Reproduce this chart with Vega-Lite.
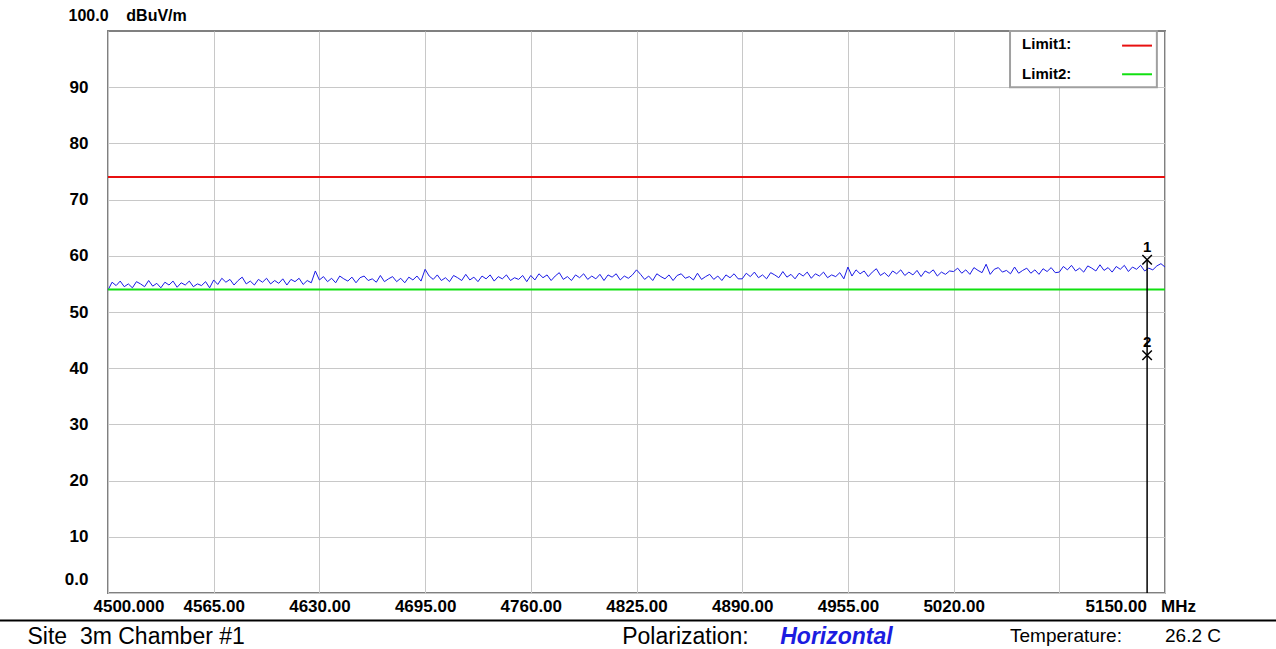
{
"$schema": "https://vega.github.io/schema/vega-lite/v6.json",
"width": 1057, "height": 562,
"autosize": {"type": "none"},
"padding": {"left": 108, "top": 31, "right": 111, "bottom": 56},
"background": "white",
"config": {"view": {"stroke": "#808080", "strokeWidth": 2}, "font": "Liberation Sans"},
"datasets": {
"trace": [
{"f":4500,"v":53.9},{"f":4502.5,"v":55.3},{"f":4505,"v":54.7},{"f":4507.5,"v":55.5},{"f":4510,"v":54.5},{"f":4512.5,"v":55.0},{"f":4515,"v":54.3},{"f":4517.5,"v":55.4},{"f":4520,"v":55.0},{"f":4522.5,"v":54.5},{"f":4525,"v":55.6},{"f":4527.5,"v":54.6},{"f":4530,"v":55.1},{"f":4532.5,"v":54.3},{"f":4535,"v":55.3},{"f":4537.5,"v":54.8},{"f":4540,"v":55.5},{"f":4542.5,"v":54.4},{"f":4545,"v":55.2},{"f":4547.5,"v":54.8},{"f":4550,"v":55.5},{"f":4552.5,"v":54.5},{"f":4555,"v":55.0},{"f":4557.5,"v":54.7},{"f":4560,"v":55.4},{"f":4562.5,"v":54.3},
{"f":4565,"v":55.7},{"f":4567.5,"v":54.9},{"f":4570,"v":56.0},{"f":4572.5,"v":55.3},{"f":4575,"v":55.8},{"f":4577.5,"v":54.8},{"f":4580,"v":55.6},{"f":4582.5,"v":56.2},{"f":4585,"v":55.0},{"f":4587.5,"v":55.5},{"f":4590,"v":54.8},{"f":4592.5,"v":55.8},{"f":4595,"v":55.3},{"f":4597.5,"v":56.0},{"f":4600,"v":55.0},{"f":4602.5,"v":55.6},{"f":4605,"v":55.1},{"f":4607.5,"v":55.9},{"f":4610,"v":54.8},{"f":4612.5,"v":55.8},{"f":4615,"v":55.4},{"f":4617.5,"v":56.0},{"f":4620,"v":54.9},{"f":4622.5,"v":55.6},{"f":4625,"v":55.2},{"f":4627.5,"v":57.3},
{"f":4630,"v":55.7},{"f":4632.5,"v":56.3},{"f":4635,"v":55.4},{"f":4637.5,"v":56.0},{"f":4640,"v":55.2},{"f":4642.5,"v":56.4},{"f":4645,"v":55.9},{"f":4647.5,"v":55.5},{"f":4650,"v":56.2},{"f":4652.5,"v":55.2},{"f":4655,"v":56.1},{"f":4657.5,"v":56.4},{"f":4660,"v":55.6},{"f":4662.5,"v":55.9},{"f":4665,"v":55.3},{"f":4667.5,"v":56.5},{"f":4670,"v":55.4},{"f":4672.5,"v":55.9},{"f":4675,"v":56.3},{"f":4677.5,"v":55.4},{"f":4680,"v":56.0},{"f":4682.5,"v":55.2},{"f":4685,"v":56.2},{"f":4687.5,"v":55.7},{"f":4690,"v":56.4},{"f":4692.5,"v":55.5},
{"f":4695,"v":57.6},{"f":4697.5,"v":56.4},{"f":4700,"v":55.8},{"f":4702.5,"v":56.6},{"f":4705,"v":55.6},{"f":4707.5,"v":56.1},{"f":4710,"v":55.4},{"f":4712.5,"v":56.5},{"f":4715,"v":56.1},{"f":4717.5,"v":55.6},{"f":4720,"v":56.7},{"f":4722.5,"v":55.7},{"f":4725,"v":56.2},{"f":4727.5,"v":55.4},{"f":4730,"v":56.4},{"f":4732.5,"v":55.9},{"f":4735,"v":56.6},{"f":4737.5,"v":55.5},{"f":4740,"v":56.3},{"f":4742.5,"v":55.9},{"f":4745,"v":56.6},{"f":4747.5,"v":55.6},{"f":4750,"v":56.1},{"f":4752.5,"v":55.8},{"f":4755,"v":56.5},{"f":4757.5,"v":55.4},
{"f":4760,"v":56.5},{"f":4762.5,"v":55.7},{"f":4765,"v":56.8},{"f":4767.5,"v":56.1},{"f":4770,"v":56.6},{"f":4772.5,"v":55.6},{"f":4775,"v":56.4},{"f":4777.5,"v":57.0},{"f":4780,"v":55.8},{"f":4782.5,"v":56.3},{"f":4785,"v":55.6},{"f":4787.5,"v":56.6},{"f":4790,"v":56.1},{"f":4792.5,"v":56.8},{"f":4795,"v":55.8},{"f":4797.5,"v":56.4},{"f":4800,"v":55.9},{"f":4802.5,"v":56.7},{"f":4805,"v":55.6},{"f":4807.5,"v":56.6},{"f":4810,"v":56.2},{"f":4812.5,"v":56.8},{"f":4815,"v":55.7},{"f":4817.5,"v":56.4},{"f":4820,"v":56.0},{"f":4822.5,"v":56.6},
{"f":4825,"v":57.5},{"f":4827.5,"v":56.7},{"f":4830,"v":55.8},{"f":4832.5,"v":56.4},{"f":4835,"v":55.6},{"f":4837.5,"v":56.8},{"f":4840,"v":56.3},{"f":4842.5,"v":55.9},{"f":4845,"v":56.6},{"f":4847.5,"v":55.6},{"f":4850,"v":56.5},{"f":4852.5,"v":56.8},{"f":4855,"v":56.0},{"f":4857.5,"v":56.3},{"f":4860,"v":55.7},{"f":4862.5,"v":56.9},{"f":4865,"v":55.8},{"f":4867.5,"v":56.3},{"f":4870,"v":56.7},{"f":4872.5,"v":55.8},{"f":4875,"v":56.4},{"f":4877.5,"v":55.6},{"f":4880,"v":56.6},{"f":4882.5,"v":56.1},{"f":4885,"v":56.8},{"f":4887.5,"v":55.9},
{"f":4890,"v":55.9},{"f":4892.5,"v":56.9},{"f":4895,"v":56.3},{"f":4897.5,"v":57.1},{"f":4900,"v":56.1},{"f":4902.5,"v":56.6},{"f":4905,"v":55.9},{"f":4907.5,"v":57.0},{"f":4910,"v":56.6},{"f":4912.5,"v":56.1},{"f":4915,"v":57.2},{"f":4917.5,"v":56.2},{"f":4920,"v":56.7},{"f":4922.5,"v":55.9},{"f":4925,"v":56.9},{"f":4927.5,"v":56.4},{"f":4930,"v":57.1},{"f":4932.5,"v":56.0},{"f":4935,"v":56.8},{"f":4937.5,"v":56.4},{"f":4940,"v":57.1},{"f":4942.5,"v":56.1},{"f":4945,"v":56.6},{"f":4947.5,"v":56.3},{"f":4950,"v":57.0},{"f":4952.5,"v":55.9},
{"f":4955,"v":58.0},{"f":4957.5,"v":56.4},{"f":4960,"v":57.5},{"f":4962.5,"v":56.8},{"f":4965,"v":57.3},{"f":4967.5,"v":56.3},{"f":4970,"v":57.1},{"f":4972.5,"v":57.7},{"f":4975,"v":56.5},{"f":4977.5,"v":57.0},{"f":4980,"v":56.3},{"f":4982.5,"v":57.3},{"f":4985,"v":56.8},{"f":4987.5,"v":57.5},{"f":4990,"v":56.5},{"f":4992.5,"v":57.1},{"f":4995,"v":56.6},{"f":4997.5,"v":57.4},{"f":5000,"v":56.3},{"f":5002.5,"v":57.3},{"f":5005,"v":56.9},{"f":5007.5,"v":57.5},{"f":5010,"v":56.4},{"f":5012.5,"v":57.1},{"f":5015,"v":56.7},{"f":5017.5,"v":57.3},
{"f":5020,"v":57.2},{"f":5022.5,"v":57.8},{"f":5025,"v":56.9},{"f":5027.5,"v":57.5},{"f":5030,"v":56.7},{"f":5032.5,"v":57.9},{"f":5035,"v":57.4},{"f":5037.5,"v":57.0},{"f":5040,"v":58.5},{"f":5042.5,"v":56.7},{"f":5045,"v":57.6},{"f":5047.5,"v":57.9},{"f":5050,"v":57.1},{"f":5052.5,"v":57.4},{"f":5055,"v":56.8},{"f":5057.5,"v":58.0},{"f":5060,"v":56.9},{"f":5062.5,"v":57.4},{"f":5065,"v":57.8},{"f":5067.5,"v":56.9},{"f":5070,"v":57.5},{"f":5072.5,"v":56.7},{"f":5075,"v":57.7},{"f":5077.5,"v":57.2},{"f":5080,"v":57.9},{"f":5082.5,"v":57.0},
{"f":5085,"v":57.1},{"f":5087.5,"v":58.1},{"f":5090,"v":57.5},{"f":5092.5,"v":58.3},{"f":5095,"v":57.3},{"f":5097.5,"v":57.8},{"f":5100,"v":57.1},{"f":5102.5,"v":58.2},{"f":5105,"v":57.8},{"f":5107.5,"v":57.3},{"f":5110,"v":58.4},{"f":5112.5,"v":57.4},{"f":5115,"v":57.9},{"f":5117.5,"v":57.1},{"f":5120,"v":58.1},{"f":5122.5,"v":57.6},{"f":5125,"v":58.3},{"f":5127.5,"v":57.2},{"f":5130,"v":58.0},{"f":5132.5,"v":57.6},{"f":5135,"v":58.3},{"f":5137.5,"v":57.3},{"f":5140,"v":57.8},{"f":5142.5,"v":57.5},{"f":5145,"v":58.2},{"f":5147.5,"v":58.6},{"f":5150,"v":58.0}
],
"limits": [{"limit": "Limit1", "level": 74}, {"limit": "Limit2", "level": 54}],
"markers": [{"marker": "1", "f": 5139, "level": 59.3}, {"marker": "2", "f": 5139, "level": 42.3}]
},
"layer": [
{
"data": {"name": "trace"},
"mark": {"type": "line", "color": "#1a1ae6", "strokeWidth": 1},
"encoding": {
"x": {"field": "f", "type": "quantitative",
"scale": {"domain": [4500, 5150], "nice": false, "zero": false},
"axis": {"title": null, "values": [4500,4565,4630,4695,4760,4825,4890,4955,5020,5085,5150],
"grid": true, "gridColor": "#c8c8c8", "gridWidth": 1, "domain": false, "ticks": false,
"labelPadding": 5, "labelFont": "Liberation Sans", "labelFontSize": 17, "labelFontWeight": "bold", "labelColor": "#000000",
"labelFlush": false, "labelOverlap": false, "labelBound": false,
"labelExpr": "datum.value == 4500 ? '4500.000' : datum.value == 5085 ? '' : datum.value == 5150 ? '5150.00\u00a0\u00a0\u00a0MHz' : format(datum.value, '.2f')",
"labelAlign": {"condition": {"test": "datum.value == 4500 || datum.value == 5150", "value": "left"}, "value": "center"},
"labelOffset": {"condition": [{"test": "datum.value == 4500", "value": -15}, {"test": "datum.value == 5150", "value": -80}], "value": 0}
}},
"y": {"field": "v", "type": "quantitative",
"scale": {"domain": [0, 100], "nice": false, "zero": false},
"axis": {"title": "100.0\u00a0\u00a0\u00a0\u00a0dBuV/m", "titleAngle": 0, "titleX": -40, "titleY": -16, "titleAlign": "left", "titleBaseline": "middle",
"titleFont": "Liberation Sans", "titleFontSize": 16, "titleFontWeight": "bold", "titleColor": "#000000",
"values": [0,10,20,30,40,50,60,70,80,90],
"grid": true, "gridColor": "#c8c8c8", "gridWidth": 1, "domain": false, "ticks": false,
"labelPadding": 20, "labelFont": "Liberation Sans", "labelFontSize": 17, "labelFontWeight": "bold", "labelColor": "#000000",
"labelExpr": "datum.value == 0 ? '0.0' : datum.label",
"labelOffset": {"condition": {"test": "datum.value == 0", "value": -14}, "value": 0}
}}
}
},
{
"data": {"name": "limits"},
"mark": {"type": "rule", "strokeWidth": 2},
"encoding": {
"y": {"field": "level", "type": "quantitative"},
"color": {"field": "limit", "type": "nominal", "scale": {"domain": ["Limit1", "Limit2"], "range": ["#e81010", "#10e010"]}, "legend": null}
}
},
{
"data": {"name": "markers"},
"transform": [{"filter": "datum.marker == '1'"}],
"mark": {"type": "rule", "color": "#000000", "strokeWidth": 1.5},
"encoding": {
"x": {"field": "f", "type": "quantitative"},
"y": {"field": "level", "type": "quantitative"},
"y2": {"datum": 0}
}
},
{
"data": {"name": "markers"},
"mark": {"type": "point", "shape": "M-1,-1L1,1M-1,1L1,-1", "filled": false, "stroke": "#000000", "strokeWidth": 1.5, "size": 90, "opacity": 1},
"encoding": {
"x": {"field": "f", "type": "quantitative"},
"y": {"field": "level", "type": "quantitative"}
}
},
{
"data": {"name": "markers"},
"mark": {"type": "text", "dy": -13, "fontSize": 15, "fontWeight": "bold", "font": "Liberation Sans", "color": "#000000"},
"encoding": {
"x": {"field": "f", "type": "quantitative"},
"y": {"field": "level", "type": "quantitative"},
"text": {"field": "marker"}
}
},
{
"data": {"values": [{}]},
"mark": {"type": "rect", "fill": "#ffffff", "stroke": "#a0a0a0", "strokeWidth": 2},
"encoding": {
"x": {"datum": 5054.7, "type": "quantitative"}, "x2": {"datum": 5145},
"y": {"datum": 100, "type": "quantitative"}, "y2": {"datum": 90}
}
},
{
"data": {"name": "limits"},
"transform": [{"filter": "datum.limit == 'Limit1'"}],
"mark": {"type": "text", "align": "left", "baseline": "middle", "fontSize": 15, "fontWeight": "bold", "font": "Liberation Sans", "color": "#000000", "text": "Limit1:"},
"encoding": {"x": {"datum": 5062.1, "type": "quantitative"}, "y": {"datum": 97.6, "type": "quantitative"}}
},
{
"data": {"name": "limits"},
"transform": [{"filter": "datum.limit == 'Limit2'"}],
"mark": {"type": "text", "align": "left", "baseline": "middle", "fontSize": 15, "fontWeight": "bold", "font": "Liberation Sans", "color": "#000000", "text": "Limit2:"},
"encoding": {"x": {"datum": 5062.1, "type": "quantitative"}, "y": {"datum": 92.4, "type": "quantitative"}}
},
{
"data": {"name": "limits"},
"transform": [{"filter": "datum.limit == 'Limit1'"}],
"mark": {"type": "rule", "strokeWidth": 2},
"encoding": {"x": {"datum": 5123.6, "type": "quantitative"}, "x2": {"datum": 5142}, "y": {"datum": 97.4, "type": "quantitative"},
"color": {"field": "limit", "type": "nominal", "legend": null}}
},
{
"data": {"name": "limits"},
"transform": [{"filter": "datum.limit == 'Limit2'"}],
"mark": {"type": "rule", "strokeWidth": 2},
"encoding": {"x": {"datum": 5123.6, "type": "quantitative"}, "x2": {"datum": 5142}, "y": {"datum": 92.3, "type": "quantitative"},
"color": {"field": "limit", "type": "nominal", "legend": null}}
},
{
"data": {"values": [{}]},
"mark": {"type": "rule", "color": "#000000", "strokeWidth": 2, "clip": false},
"encoding": {"x": {"datum": 4430, "type": "quantitative"}, "x2": {"datum": 5220}, "y": {"datum": -4.9, "type": "quantitative"}}
},
{
"data": {"values": [{}]},
"mark": {"type": "text", "align": "left", "baseline": "middle", "fontSize": 23, "font": "Liberation Sans", "color": "#000000", "text": "Site\u00a0 3m Chamber #1"},
"encoding": {"x": {"datum": 4450.5, "type": "quantitative"}, "y": {"datum": -7.9, "type": "quantitative"}}
},
{
"data": {"values": [{}]},
"mark": {"type": "text", "align": "left", "baseline": "middle", "fontSize": 23, "font": "Liberation Sans", "color": "#000000", "text": "Polarization:"},
"encoding": {"x": {"datum": 4816.2, "type": "quantitative"}, "y": {"datum": -7.9, "type": "quantitative"}}
},
{
"data": {"values": [{}]},
"mark": {"type": "text", "align": "left", "baseline": "middle", "fontSize": 23, "font": "Liberation Sans", "fontWeight": "bold", "fontStyle": "italic", "color": "#1c1ce0", "text": "Horizontal"},
"encoding": {"x": {"datum": 4913.4, "type": "quantitative"}, "y": {"datum": -7.9, "type": "quantitative"}}
},
{
"data": {"values": [{}]},
"mark": {"type": "text", "align": "left", "baseline": "middle", "fontSize": 19, "font": "Liberation Sans", "color": "#000000", "text": "Temperature:"},
"encoding": {"x": {"datum": 5054.7, "type": "quantitative"}, "y": {"datum": -7.6, "type": "quantitative"}}
},
{
"data": {"values": [{}]},
"mark": {"type": "text", "align": "left", "baseline": "middle", "fontSize": 19, "font": "Liberation Sans", "color": "#000000", "text": "26.2 C"},
"encoding": {"x": {"datum": 5150, "type": "quantitative"}, "y": {"datum": -7.6, "type": "quantitative"}}
}
]
}
